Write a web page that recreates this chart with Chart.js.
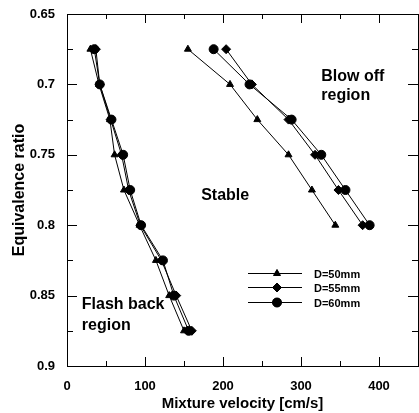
<!DOCTYPE html>
<html>
<head>
<meta charset="utf-8">
<script src="https://cdn.jsdelivr.net/npm/chart.js@4/dist/chart.umd.min.js"></script>
<style>
  html, body { margin: 0; padding: 0; background: #fff; }
  #wrap { width: 419px; height: 413px; }
</style>
</head>
<body>
<div id="wrap"><canvas id="chart" width="419" height="413"></canvas></div>
<script>
// equivalence ratio levels for each branch
const phiFlash = [0.675, 0.7, 0.725, 0.75, 0.775, 0.8, 0.825, 0.85, 0.875];
const phiBlow = [0.675, 0.7, 0.725, 0.75, 0.775, 0.8];

// flash back limit, mixture velocity [cm/s]
const flash50 = [30, 41, 55, 61, 73, 93, 114, 131, 150];
const flash55 = [37, 42, 56, 70, 79, 94, 121, 140, 160];
const flash60 = [35, 42, 57, 72, 81, 95, 123, 137, 156];

// blow off limit, mixture velocity [cm/s]
const blow50 = [155, 209, 244, 284, 314, 344];
const blow55 = [204, 237, 284, 318, 348, 379];
const blow60 = [188, 234, 288, 326, 357, 388];

const seriesNames = ['D=50mm', 'D=55mm', 'D=60mm'];

const xTickVals = [0, 100, 200, 300, 400];
const xMinorVals = [50, 150, 250, 350, 450];
const yTickVals = [0.65, 0.7, 0.75, 0.8, 0.85, 0.9];
const yMinorVals = [0.675, 0.725, 0.775, 0.825, 0.875];

const styles = ['triangle', 'rectRot', 'circle'];
const radii = [4, 4.5, 4.5];

function branchPoints(flash, blow) {
  const pts = flash.map((v, i) => ({ x: v, y: phiFlash[i] }));
  pts.push({ x: null, y: null }); // break between the two limits
  return pts.concat(blow.map((v, i) => ({ x: v, y: phiBlow[i] })));
}

const datasets = [
  [flash50, blow50], [flash55, blow55], [flash60, blow60]
].map((pair, k) => ({
  label: seriesNames[k],
  data: branchPoints(pair[0], pair[1]),
  showLine: true,
  spanGaps: false,
  borderColor: '#000',
  backgroundColor: '#000',
  borderWidth: 1,
  pointStyle: styles[k],
  pointRadius: radii[k],
  pointBorderWidth: 1
}));

const BOLD = '"Liberation Sans", Arial, sans-serif';

const frameTicks = {
  id: 'frameTicks',
  afterDraw(chart) {
    const { ctx, chartArea: a, scales } = chart;
    const sx = scales.x, sy = scales.y;
    ctx.save();
    ctx.strokeStyle = '#000';
    ctx.lineWidth = 1;
    ctx.strokeRect(a.left + 0.5, a.top + 0.5, a.right - a.left, a.bottom - a.top);
    ctx.beginPath();
    const tickX = (v, len) => {
      const p = Math.round(sx.getPixelForValue(v)) + 0.5;
      ctx.moveTo(p, a.bottom); ctx.lineTo(p, a.bottom - len);
      ctx.moveTo(p, a.top); ctx.lineTo(p, a.top + len);
    };
    const tickY = (v, len) => {
      const p = Math.round(sy.getPixelForValue(v)) + 0.5;
      ctx.moveTo(a.left, p); ctx.lineTo(a.left + len, p);
      ctx.moveTo(a.right, p); ctx.lineTo(a.right - len, p);
    };
    xTickVals.forEach(v => tickX(v, 9));
    xMinorVals.forEach(v => tickX(v, 5));
    yTickVals.forEach(v => tickY(v, 10));
    yMinorVals.forEach(v => tickY(v, 6));
    ctx.stroke();

    // region notes
    ctx.fillStyle = '#000';
    ctx.textBaseline = 'middle';
    ctx.textAlign = 'left';
    ctx.font = 'bold 16px ' + BOLD;
    ctx.fillText('Stable', sx.getPixelForValue(172), sy.getPixelForValue(0.779));
    ctx.fillText('Blow off', sx.getPixelForValue(326), sy.getPixelForValue(0.6945));
    ctx.fillText('region', sx.getPixelForValue(326), sy.getPixelForValue(0.708));
    ctx.fillText('Flash back', sx.getPixelForValue(19), sy.getPixelForValue(0.8565));
    ctx.fillText('region', sx.getPixelForValue(19), sy.getPixelForValue(0.8715));

    // legend
    const rows = [273, 287, 302];
    ctx.font = 'bold 11px ' + BOLD;
    chart.data.datasets.forEach((ds, k) => {
      const y = rows[k] + 0.5;
      ctx.beginPath();
      ctx.moveTo(248, y); ctx.lineTo(302, y);
      ctx.stroke();
      Chart.helpers.drawPoint(ctx, { pointStyle: ds.pointStyle, radius: ds.pointRadius, rotation: 0, borderWidth: 1 }, 277, y);
      ctx.fill();
      ctx.fillText(ds.label, 314, y + 1);
    });
    ctx.restore();
  }
};

new Chart(document.getElementById('chart'), {
  type: 'scatter',
  data: { datasets },
  plugins: [frameTicks],
  options: {
    responsive: false,
    animation: false,
    events: [],
    layout: { autoPadding: false, padding: { top: 14, right: 1, left: 10, bottom: 0 } },
    plugins: { legend: { display: false }, tooltip: { enabled: false } },
    scales: {
      x: {
        type: 'linear',
        min: 0,
        max: 450,
        afterBuildTicks: s => { s.ticks = xTickVals.map(v => ({ value: v })); },
        afterFit: s => { s.height = 47; s.paddingRight = 0; s.paddingLeft = 0; },
        grid: { display: false },
        border: { display: false },
        ticks: { color: '#000', padding: 5, font: { family: BOLD, size: 13, weight: 'bold' } },
        title: {
          display: true,
          text: 'Mixture velocity [cm/s]',
          color: '#000',
          padding: { top: 0, bottom: 0 },
          font: { family: BOLD, size: 15, weight: 'bold' }
        }
      },
      y: {
        type: 'linear',
        reverse: true,
        min: 0.65,
        max: 0.9,
        afterBuildTicks: s => { s.ticks = yTickVals.map(v => ({ value: v })); },
        afterFit: s => { s.width = 57; s.paddingTop = 0; s.paddingBottom = 0; },
        grid: { display: false },
        border: { display: false },
        ticks: {
          color: '#000',
          padding: 4,
          font: { family: BOLD, size: 13, weight: 'bold' },
          callback: v => String(+v.toFixed(3))
        },
        title: {
          display: true,
          text: 'Equivalence ratio',
          color: '#000',
          padding: { top: 0, bottom: 0 },
          font: { family: BOLD, size: 16, weight: 'bold' }
        }
      }
    }
  }
});
</script>
</body>
</html>
